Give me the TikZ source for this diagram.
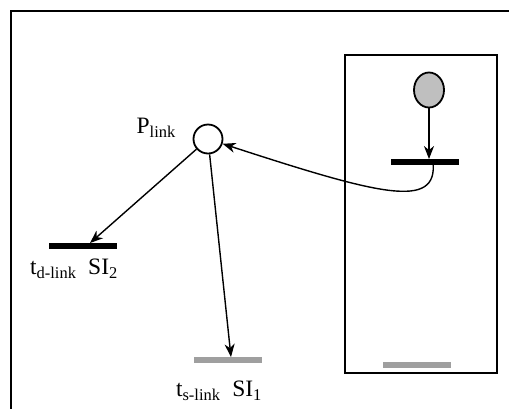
\documentclass[tikz,border=0pt]{standalone}
\usepackage{fontspec}
\setmainfont{Liberation Serif}
\usetikzlibrary{arrows.meta,positioning,shapes.geometric}
\tikzset{
  place/.style  = {circle, draw, line width=1.8pt, fill=white, minimum size=29pt, inner sep=0pt},
  token/.style  = {ellipse, draw, line width=1.8pt, fill=gray!50, minimum width=30pt,
                   minimum height=35pt, inner sep=0pt},
  bar/.style    = {fill=black, minimum width=68pt, minimum height=5.5pt, inner sep=0pt},
  gbar/.style   = {fill=gray!75, minimum width=68pt, minimum height=5.5pt, inner sep=0pt},
  arc/.style    = {-{Stealth[length=13pt,width=10pt,inset=4pt]}, line width=1.4pt},
  lbl/.style    = {font=\fontsize{23.5}{28}\selectfont, inner sep=0pt},
}
\begin{document}
\begin{tikzpicture}[x=1pt,y=-1pt]
  \useasboundingbox (0,0) rectangle (509,408);
  % frame round the whole net, cut off at the right and bottom
  \draw[line width=2pt] (11,420) -- (11,11) -- (520,11);
  % the subnet on the right
  \draw[line width=1.4pt] (345,55) rectangle (497,373);
  \node[token] (pin) at (429,90) {};
  \node[bar] (tin) at (425,162) {};
  \node[gbar] (tout) at (417,365) {};
  \draw[arc] (pin) -- (pin |- tin.north);
  % link place and its two transitions
  \node[place] (plink) at (208,139) {};
  \node[lbl, anchor=east] (plinklbl) at (176,128) {P\textsubscript{link}};
  \node[bar] (tdl) at (83,246) {};
  \node[gbar] (tsl) at (228,360) {};
  \node[lbl] (tdllbl) at (74,269) {t\textsubscript{d-link}\ \ SI\textsubscript{2}};
  \node[lbl] (tsllbl) at (219,391) {t\textsubscript{s-link}\ \ SI\textsubscript{1}};
  \draw[arc] (plink) -- ([xshift=7pt]tdl.north);
  \draw[arc] (plink) -- ([xshift=3pt]tsl.north);
  \draw[arc] ([xshift=8pt]tin.center) .. controls (438,210) and (380,195) .. (plink);
\end{tikzpicture}
\end{document}
